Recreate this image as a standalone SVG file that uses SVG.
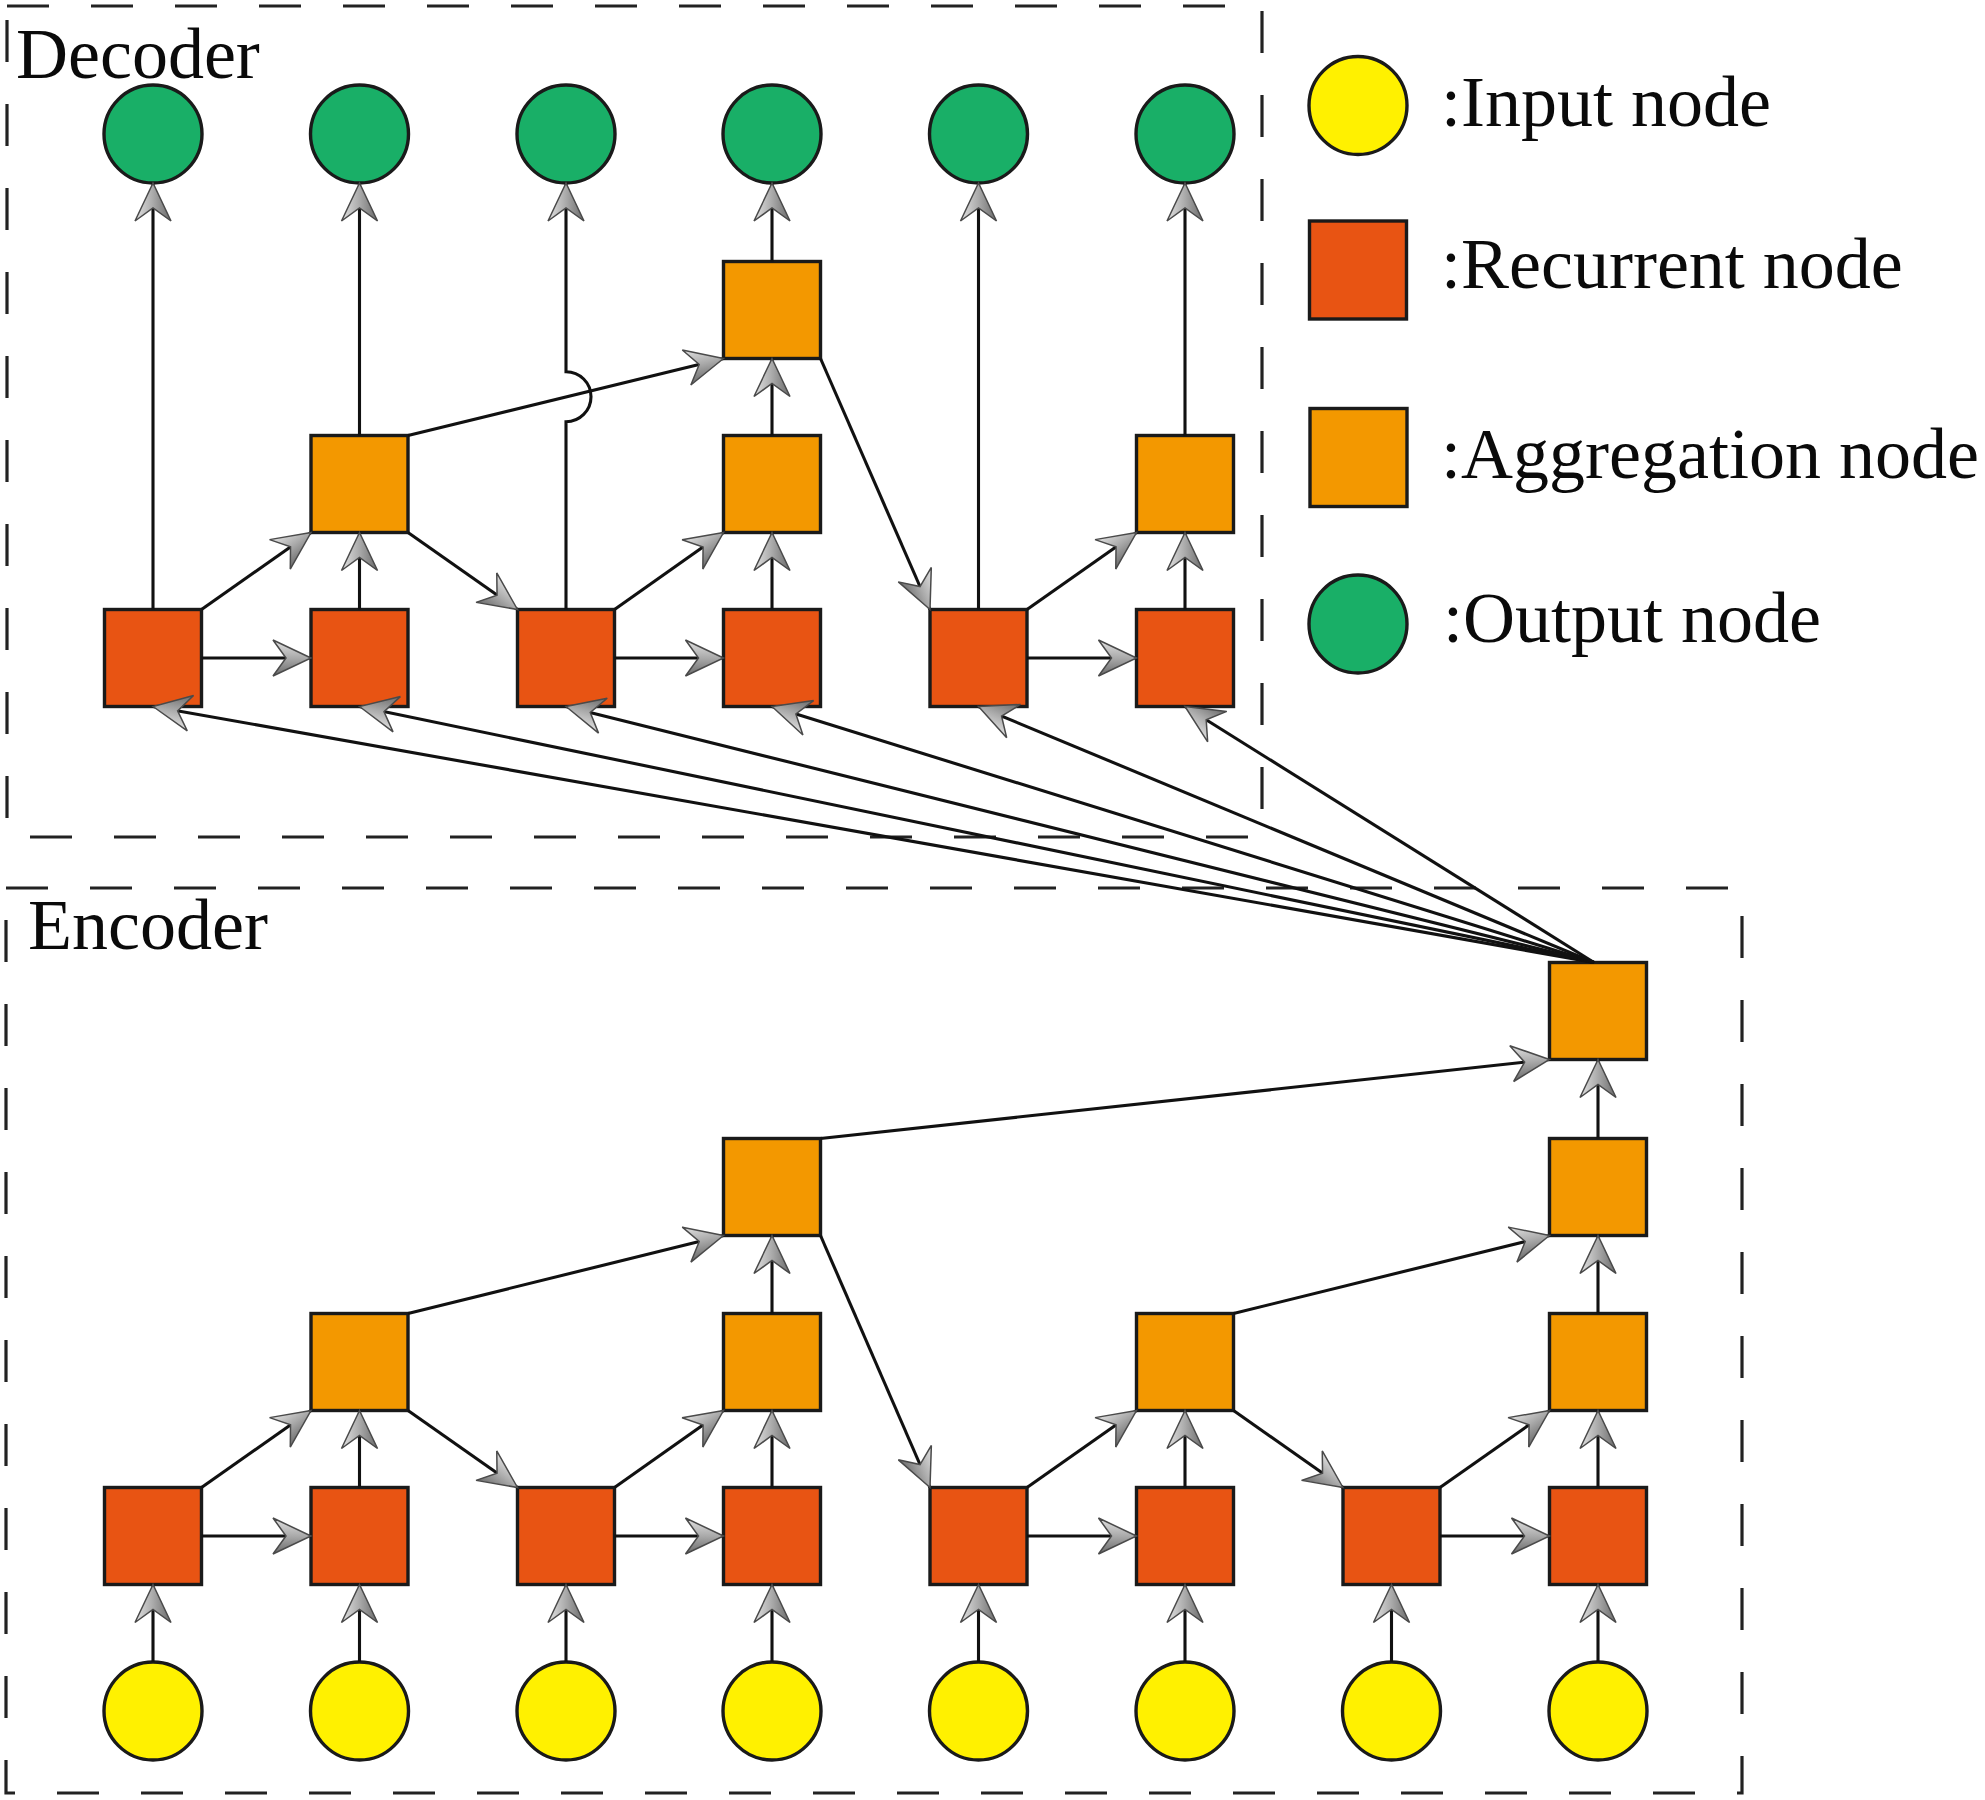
<svg xmlns="http://www.w3.org/2000/svg" width="1985" height="1800" viewBox="0 0 1985 1800">
<style>
.box{fill:none;stroke:#222;stroke-width:3.2;stroke-dasharray:42 42}
.lbl{font-family:"Liberation Serif","Times New Roman",serif;font-size:72px;fill:#0a0a0a}
.rec{fill:#E85413;stroke:#1a1a1a;stroke-width:3.4}
.agg{fill:#F39800;stroke:#1a1a1a;stroke-width:3.4}
.out{fill:#19AF67;stroke:#1a1a1a;stroke-width:3.4}
.inp{fill:#FFF100;stroke:#1a1a1a;stroke-width:3.4}
.c{fill:none;stroke:#111;stroke-width:3.1;marker-end:url(#ah)}
</style>
<defs>
<linearGradient id="ag" x1="0" y1="0" x2="0" y2="1">
<stop offset="0" stop-color="#e2e2e2"/>
<stop offset="0.5" stop-color="#aaaaaa"/>
<stop offset="1" stop-color="#6a6a6a"/>
</linearGradient>
<marker id="ah" markerUnits="userSpaceOnUse" viewBox="-40 -20 42 40" markerWidth="42" markerHeight="40" refX="0" refY="0" orient="auto" overflow="visible">
<path d="M0,0 L-38,-18 L-25,0 L-38,18 Z" fill="url(#ag)" stroke="#4a4a4a" stroke-width="1.5" stroke-linejoin="miter"/>
</marker>
</defs>
<rect width="1985" height="1800" fill="#fff"/>

<g id="decoder-frame">
<rect class="box" x="7" y="6" width="1255" height="831"/>
<text class="lbl" x="16" y="78">Decoder</text>
</g>
<g id="encoder-frame">
<rect class="box" x="6" y="888" width="1736" height="905"/>
<text class="lbl" x="28" y="949">Encoder</text>
</g>

<g id="legend">
<g id="legend-input"><circle class="inp" cx="1358" cy="105.5" r="49"/><text class="lbl" x="1441" y="126">:Input node</text></g>
<g id="legend-recurrent"><rect class="rec" x="1309.5" y="221" width="97" height="98"/><text class="lbl" x="1441" y="288">:Recurrent node</text></g>
<g id="legend-aggregation"><rect class="agg" x="1310" y="408.5" width="97" height="98"/><text class="lbl" x="1441" y="478">:Aggregation node</text></g>
<g id="legend-output"><circle class="out" cx="1358" cy="624" r="49"/><text class="lbl" x="1443" y="642">:Output node</text></g>
</g>

<!-- Decoder nodes -->
<g id="d-out0"><circle class="out" cx="153" cy="134" r="49"/></g>
<g id="d-out1"><circle class="out" cx="359.5" cy="134" r="49"/></g>
<g id="d-out2"><circle class="out" cx="566" cy="134" r="49"/></g>
<g id="d-out3"><circle class="out" cx="772" cy="134" r="49"/></g>
<g id="d-out4"><circle class="out" cx="978.5" cy="134" r="49"/></g>
<g id="d-out5"><circle class="out" cx="1185" cy="134" r="49"/></g>
<g id="d-agg2-3"><rect class="agg" x="723.5" y="261.5" width="97" height="97"/></g>
<g id="d-agg1-1"><rect class="agg" x="311" y="435.5" width="97" height="97"/></g>
<g id="d-agg1-3"><rect class="agg" x="723.5" y="435.5" width="97" height="97"/></g>
<g id="d-agg1-5"><rect class="agg" x="1136.5" y="435.5" width="97" height="97"/></g>
<g id="d-rec0"><rect class="rec" x="104.5" y="609.5" width="97" height="97"/></g>
<g id="d-rec1"><rect class="rec" x="311" y="609.5" width="97" height="97"/></g>
<g id="d-rec2"><rect class="rec" x="517.5" y="609.5" width="97" height="97"/></g>
<g id="d-rec3"><rect class="rec" x="723.5" y="609.5" width="97" height="97"/></g>
<g id="d-rec4"><rect class="rec" x="930" y="609.5" width="97" height="97"/></g>
<g id="d-rec5"><rect class="rec" x="1136.5" y="609.5" width="97" height="97"/></g>

<!-- Encoder nodes -->
<g id="e-agg3-7"><rect class="agg" x="1549.5" y="962.5" width="97" height="97"/></g>
<g id="e-agg2-3"><rect class="agg" x="723.5" y="1138.5" width="97" height="97"/></g>
<g id="e-agg2-7"><rect class="agg" x="1549.5" y="1138.5" width="97" height="97"/></g>
<g id="e-agg1-1"><rect class="agg" x="311" y="1313.5" width="97" height="97"/></g>
<g id="e-agg1-3"><rect class="agg" x="723.5" y="1313.5" width="97" height="97"/></g>
<g id="e-agg1-5"><rect class="agg" x="1136.5" y="1313.5" width="97" height="97"/></g>
<g id="e-agg1-7"><rect class="agg" x="1549.5" y="1313.5" width="97" height="97"/></g>
<g id="e-rec0"><rect class="rec" x="104.5" y="1487.5" width="97" height="97"/></g>
<g id="e-rec1"><rect class="rec" x="311" y="1487.5" width="97" height="97"/></g>
<g id="e-rec2"><rect class="rec" x="517.5" y="1487.5" width="97" height="97"/></g>
<g id="e-rec3"><rect class="rec" x="723.5" y="1487.5" width="97" height="97"/></g>
<g id="e-rec4"><rect class="rec" x="930" y="1487.5" width="97" height="97"/></g>
<g id="e-rec5"><rect class="rec" x="1136.5" y="1487.5" width="97" height="97"/></g>
<g id="e-rec6"><rect class="rec" x="1343" y="1487.5" width="97" height="97"/></g>
<g id="e-rec7"><rect class="rec" x="1549.5" y="1487.5" width="97" height="97"/></g>
<g id="e-in0"><circle class="inp" cx="153" cy="1711" r="49"/></g>
<g id="e-in1"><circle class="inp" cx="359.5" cy="1711" r="49"/></g>
<g id="e-in2"><circle class="inp" cx="566" cy="1711" r="49"/></g>
<g id="e-in3"><circle class="inp" cx="772" cy="1711" r="49"/></g>
<g id="e-in4"><circle class="inp" cx="978.5" cy="1711" r="49"/></g>
<g id="e-in5"><circle class="inp" cx="1185" cy="1711" r="49"/></g>
<g id="e-in6"><circle class="inp" cx="1391.5" cy="1711" r="49"/></g>
<g id="e-in7"><circle class="inp" cx="1598" cy="1711" r="49"/></g>

<g id="connectors">
<!-- decoder to outputs -->
<path class="c" d="M153,609.5 V183"/>
<path class="c" d="M359.5,435.5 V183"/>
<path class="c" d="M566,609.5 V421.7 A25,25 0 0 0 566,371.7 V183"/>
<path class="c" d="M772,261.5 V183"/>
<path class="c" d="M978.5,609.5 V183"/>
<path class="c" d="M1185,435.5 V183"/>
<!-- decoder internal -->
<path class="c" d="M201.5,609.5 L311,532.5"/>
<path class="c" d="M359.5,609.5 V532.5"/>
<path class="c" d="M408,532.5 L517.5,609.5"/>
<path class="c" d="M614.5,609.5 L723.5,532.5"/>
<path class="c" d="M772,609.5 V532.5"/>
<path class="c" d="M772,435.5 V358.5"/>
<path class="c" d="M408,435.5 L723.5,358.5"/>
<path class="c" d="M820.5,358.5 L930,609.5"/>
<path class="c" d="M1027,609.5 L1136.5,532.5"/>
<path class="c" d="M1185,609.5 V532.5"/>
<path class="c" d="M201.5,658 H311"/>
<path class="c" d="M614.5,658 H723.5"/>
<path class="c" d="M1027,658 H1136.5"/>
<!-- encoder context to decoder -->
<path class="c" d="M1594,962.5 L153,706.5"/>
<path class="c" d="M1594,962.5 L359.5,706.5"/>
<path class="c" d="M1594,962.5 L566,706.5"/>
<path class="c" d="M1594,962.5 L772,706.5"/>
<path class="c" d="M1594,962.5 L978.5,706.5"/>
<path class="c" d="M1594,962.5 L1185,706.5"/>
<!-- encoder inputs -->
<path class="c" d="M153,1662 V1584.5"/>
<path class="c" d="M359.5,1662 V1584.5"/>
<path class="c" d="M566,1662 V1584.5"/>
<path class="c" d="M772,1662 V1584.5"/>
<path class="c" d="M978.5,1662 V1584.5"/>
<path class="c" d="M1185,1662 V1584.5"/>
<path class="c" d="M1391.5,1662 V1584.5"/>
<path class="c" d="M1598,1662 V1584.5"/>
<!-- encoder horizontal -->
<path class="c" d="M201.5,1536 H311"/>
<path class="c" d="M614.5,1536 H723.5"/>
<path class="c" d="M1027,1536 H1136.5"/>
<path class="c" d="M1440,1536 H1549.5"/>
<!-- encoder tree -->
<path class="c" d="M201.5,1487.5 L311,1410.5"/>
<path class="c" d="M359.5,1487.5 V1410.5"/>
<path class="c" d="M408,1410.5 L517.5,1487.5"/>
<path class="c" d="M614.5,1487.5 L723.5,1410.5"/>
<path class="c" d="M772,1487.5 V1410.5"/>
<path class="c" d="M408,1313.5 L723.5,1235.5"/>
<path class="c" d="M772,1313.5 V1235.5"/>
<path class="c" d="M820.5,1235.5 L930,1487.5"/>
<path class="c" d="M1027,1487.5 L1136.5,1410.5"/>
<path class="c" d="M1185,1487.5 V1410.5"/>
<path class="c" d="M1233.5,1410.5 L1343,1487.5"/>
<path class="c" d="M1440,1487.5 L1549.5,1410.5"/>
<path class="c" d="M1598,1487.5 V1410.5"/>
<path class="c" d="M1233.5,1313.5 L1549.5,1235.5"/>
<path class="c" d="M1598,1313.5 V1235.5"/>
<path class="c" d="M820.5,1138.5 L1549.5,1059.5"/>
<path class="c" d="M1598,1138.5 V1059.5"/>
</g>
</svg>
